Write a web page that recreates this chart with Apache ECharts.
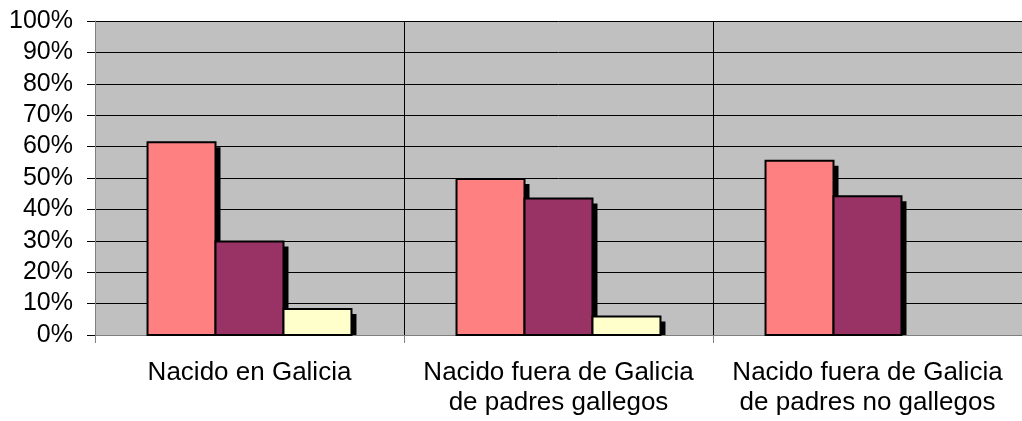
<!DOCTYPE html>
<html lang="es">
<head>
    <meta charset="UTF-8">
    <title>Lugar de nacimiento</title>
    <script type="text/javascript" src="https://cdn.jsdelivr.net/npm/echarts@6/dist/echarts.min.js"></script>
    <style>
        html, body { margin: 0; padding: 0; background: #fff; }
    </style>
</head>
<body>
<div id="chart" style="width: 1022px;height: 421px"></div>
<script type="text/javascript">
    // categorias del eje x
    var categorias = [
        'Nacido en Galicia',
        'Nacido fuera de Galicia\nde padres gallegos',
        'Nacido fuera de Galicia\nde padres no gallegos'
    ];
    // porcentajes de cada serie
    var serie1 = [61.4, 49.7, 55.5];
    var serie2 = [29.8, 43.5, 44.2];
    var serie3 = [8.3, 5.9, null];
    var colores = ['#FF8080', '#993366', '#FFFFCC'];

    var myChart = echarts.init(document.getElementById('chart'), null, {renderer: 'canvas'});

    // barra con sombra negra desplazada (estilo Excel), dibujada con la escala del eje
    function barra(datos, color, idx) {
        return {
            type: 'custom',
            data: datos.map(function (v, i) { return [i, v]; }),
            encode: { x: 0, y: 1 },
            renderItem: function (params, api) {
                var v = api.value(1);
                if (v == null || isNaN(v)) return;
                var catW = api.size([1, 0])[0];
                var barW = catW * 0.66 / 3;
                var centro = api.coord([api.value(0), 0]);
                var base = centro[1];
                var top = api.coord([api.value(0), v])[1];
                var x = centro[0] - catW * 0.33 + idx * barW;
                var h = base - top;
                return {
                    type: 'group',
                    children: [{
                        type: 'rect',
                        shape: { x: x + 5, y: top + 5, width: barW, height: Math.max(h - 5, 0) },
                        style: { fill: '#000' }
                    }, {
                        type: 'rect',
                        shape: { x: x, y: top, width: barW, height: h },
                        style: { fill: color, stroke: '#000', lineWidth: 2 }
                    }]
                };
            }
        };
    }

    var option = {
        animation: false,
        grid: {
            left: 95,
            top: 21,
            width: 932,
            height: 314,
            show: true,
            backgroundColor: '#C0C0C0',
            borderWidth: 0
        },
        xAxis: {
            type: 'category',
            data: categorias,
            axisLine: { lineStyle: { color: '#808080', width: 1 } },
            axisTick: { show: true, interval: 0, length: 8, lineStyle: { color: '#808080' } },
            splitLine: { show: true, interval: 0, lineStyle: { color: '#000', width: 1 } },
            axisLabel: {
                interval: 0,
                margin: 23,
                color: '#000',
                fontFamily: 'Liberation Sans',
                fontSize: 26,
                lineHeight: 30
            }
        },
        yAxis: {
            type: 'value',
            min: 0,
            max: 100,
            interval: 10,
            axisLine: { show: true, lineStyle: { color: '#808080', width: 1 } },
            axisTick: { show: true, length: 8, lineStyle: { color: '#000' } },
            splitLine: { show: true, lineStyle: { color: '#000', width: 1 } },
            axisLabel: {
                margin: 22,
                color: '#000',
                fontFamily: 'Liberation Sans',
                fontSize: 25,
                formatter: '{value}%'
            }
        },
        series: [
            barra(serie1, colores[0], 0),
            barra(serie2, colores[1], 1),
            barra(serie3, colores[2], 2)
        ]
    };
    myChart.setOption(option, true);
</script>
</body>
</html>
